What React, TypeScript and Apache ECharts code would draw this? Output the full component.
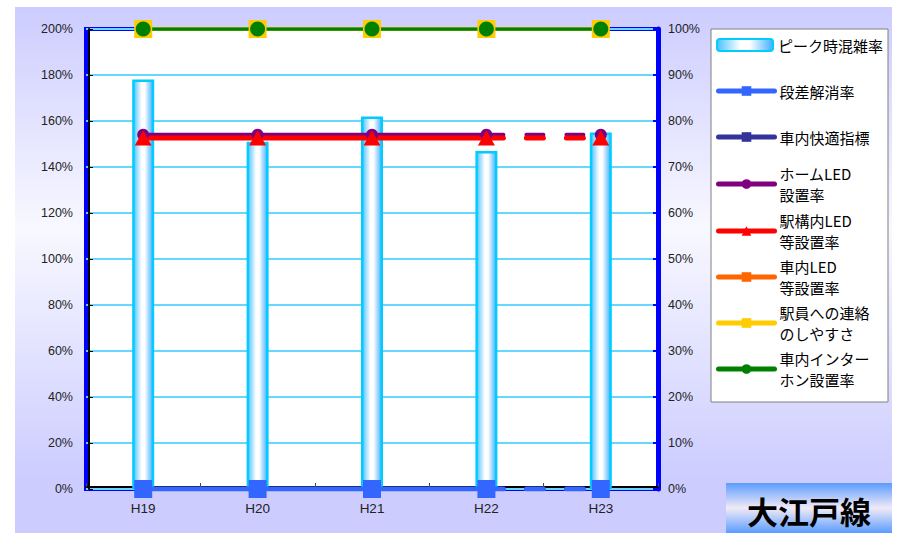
import React, { useEffect, useRef } from "react";
import * as echarts from "echarts";

const categories = ["H19", "H20", "H21", "H22", "H23"];
const peakCongestion = [178, 151, 162, 147, 155];
const stepFree = [0, 0, 0, 0, 0];
const comfortIndex: (number | null)[] = [null, null, null, null, null];
const platformLED = [77, 77, 77, 77, 77];
const stationLED = [76.3, 76.3, 76.3, 76.3, 76.3];
const carLED: (number | null)[] = [null, null, null, null, null];
const staffContact = [100, 100, 100, 100, 100];
const intercom = [100, 100, 100, 100, 100];

const leftMax = 200;
const leftInterval = 20;
const rightMax = 100;
const rightInterval = 10;

const names = [
  "ピーク時混雑率",
  "段差解消率",
  "車内快適指標",
  "ホームLED設置率",
  "駅構内LED等設置率",
  "車内LED等設置率",
  "駅員への連絡のしやすさ",
  "車内インターホン設置率",
];
const legendLabels = [
  "ピーク時混雑率",
  "段差解消率",
  "車内快適指標",
  "ホームLED\n設置率",
  "駅構内LED\n等設置率",
  "車内LED\n等設置率",
  "駅員への連絡\nのしやすさ",
  "車内インター\nホン設置率",
];
const legendCenters = [45, 91, 137, 184, 231, 277, 323, 369];

const FONT = "'Noto Sans CJK JP', 'Noto Sans', sans-serif";
const NUMFONT = "'Liberation Sans', Arial, sans-serif";
const GRIDCOLOR = "#66d8ff";

function solidPart(v: (number | null)[]) {
  return v.map((x, i) => (i < 4 ? x : null));
}
function dashedPart(v: (number | null)[]) {
  return v.map((x, i) => (i === 3 ? { value: x, symbol: "none" } : i === 4 ? x : null));
}

export default function App() {
  const ref = useRef<HTMLDivElement>(null);
  useEffect(() => {
    if (!ref.current) return;
    const chart = echarts.init(ref.current, undefined, { renderer: "svg" });

    const dash = [17, 23];
    const lineSeries = (
      name: string,
      data: any[],
      color: string,
      width: number,
      symbol: string,
      symbolSize: any,
      dashed = false
    ) => ({
      type: "line",
      name,
      yAxisIndex: 1,
      data,
      symbol,
      symbolSize,
      showSymbol: true,
      showAllSymbol: true,
      connectNulls: false,
      itemStyle: { color },
      lineStyle: { color, width, type: dashed ? dash : "solid", cap: "round" },
      emphasis: { disabled: true },
    });

    const legends = names.map((n, i) => {
      const twoLine = legendLabels[i].includes("\n");
      return {
        show: true,
        left: 716,
        top: legendCenters[i] - (twoLine ? 31.5 : 10.5),
        orient: "vertical",
        padding: 0,
        itemGap: 0,
        itemWidth: 56,
        itemHeight: 12,
        selectedMode: false,
        data: [n],
        lineStyle: { width: 5 },
        formatter: () => legendLabels[i],
        textStyle: {
          fontFamily: FONT,
          fontSize: 15,
          lineHeight: 21,
          color: "#000",
          padding: twoLine ? [21, 0, 0, 0] : 0,
        },
      };
    });

    chart.setOption({
      animation: false,
      backgroundColor: "#ffffff",
      textStyle: { fontFamily: NUMFONT },
      graphic: [
        {
          type: "rect",
          z: -100,
          silent: true,
          shape: { x: 15, y: 7, width: 877, height: 526 },
          style: {
            fill: new echarts.graphic.LinearGradient(0, 0, 0, 1, [
              { offset: 0, color: "#ccccff" },
              { offset: 0.42, color: "#f8f8ff" },
              { offset: 0.9, color: "#ccccff" },
              { offset: 1, color: "#ccccff" },
            ]),
          },
        },
        {
          type: "rect",
          z: 1,
          silent: true,
          shape: { x: 711, y: 29, width: 177, height: 373 },
          style: { fill: "#ffffff", stroke: "#808080", lineWidth: 1 },
        },
        {
          type: "rect",
          z: 10,
          silent: true,
          shape: { x: 726, y: 483, width: 166, height: 50 },
          style: {
            fill: new echarts.graphic.LinearGradient(0, 0, 0, 1, [
              { offset: 0, color: "#5a9cff" },
              { offset: 0.5, color: "#f2eaf6" },
              { offset: 1, color: "#5a9cff" },
            ]),
          },
        },
        {
          type: "text",
          z: 11,
          silent: true,
          x: 809,
          y: 510,
          style: {
            text: "大江戸線",
            font: `bold 31px ${FONT}`,
            fill: "#000",
            align: "center",
            verticalAlign: "middle",
          },
        },
      ],
      legend: legends,
      grid: {
        left: 86,
        top: 29,
        right: 239,
        bottom: 44,
        show: true,
        backgroundColor: "#ffffff",
        borderColor: "#0000ff",
        borderWidth: 4,
      },
      xAxis: {
        type: "category",
        data: categories,
        offset: -2,
        axisLine: { show: true, lineStyle: { color: "#000", width: 2 } },
        axisTick: { show: true, inside: true, length: 4, lineStyle: { color: "#444" } },
        axisLabel: { color: "#222", fontSize: 13.5, margin: 14, fontFamily: NUMFONT },
        splitLine: { show: false },
      },
      yAxis: [
        {
          type: "value",
          min: 0,
          max: leftMax,
          interval: leftInterval,
          offset: -3,
          axisLine: { show: true, lineStyle: { color: "#000", width: 2 } },
          axisTick: { show: true, inside: true, length: 4, lineStyle: { color: "#000" } },
          axisLabel: { formatter: "{value}%", color: "#222", fontSize: 12.5, margin: 16, fontFamily: NUMFONT },
          splitLine: { show: true, lineStyle: { color: GRIDCOLOR, width: 2, type: "solid" } },
        },
        {
          type: "value",
          min: 0,
          max: rightMax,
          interval: rightInterval,
          position: "right",
          axisLine: { show: true, lineStyle: { color: "#0000ff", width: 5 } },
          axisTick: { show: true, inside: true, length: 5, lineStyle: { color: "#0000ff", width: 2 } },
          axisLabel: { formatter: "{value}%", color: "#222", fontSize: 12.5, margin: 10, fontFamily: NUMFONT },
          splitLine: { show: false },
        },
      ],
      series: [
        {
          type: "bar",
          name: names[0],
          yAxisIndex: 0,
          data: peakCongestion,
          barWidth: 22,
          itemStyle: {
            color: new echarts.graphic.LinearGradient(0, 0, 1, 0, [
              { offset: 0, color: "#4cc2ff" },
              { offset: 0.42, color: "#ffffff" },
              { offset: 0.58, color: "#ffffff" },
              { offset: 1, color: "#40b0ff" },
            ]),
            borderColor: "#00ccff",
            borderWidth: 2.5,
          },
          emphasis: { disabled: true },
        },
        lineSeries(names[1], solidPart(stepFree), "#3366ff", 5, "rect", 18),
        lineSeries(names[1], dashedPart(stepFree), "#3366ff", 5, "rect", 18, true),
        lineSeries(names[2], comfortIndex, "#333399", 5, "rect", 9),
        lineSeries(names[3], solidPart(platformLED), "#800080", 4, "circle", 12),
        lineSeries(names[3], dashedPart(platformLED), "#800080", 4, "circle", 12, true),
        lineSeries(names[4], solidPart(stationLED), "#ff0000", 5, "triangle", [17, 15]),
        lineSeries(names[4], dashedPart(stationLED), "#ff0000", 5, "triangle", [17, 15], true),
        lineSeries(names[5], carLED, "#ff6600", 5, "rect", 9),
        lineSeries(names[6], staffContact, "#ffcc00", 4, "rect", 18),
        lineSeries(names[7], intercom, "#008000", 3.5, "circle", 15),
      ],
    });
    return () => chart.dispose();
  }, []);
  return (
    <div
      ref={ref}
      style={{ position: "absolute", left: 0, top: 0, width: 897, height: 533 }}
    />
  );
}
